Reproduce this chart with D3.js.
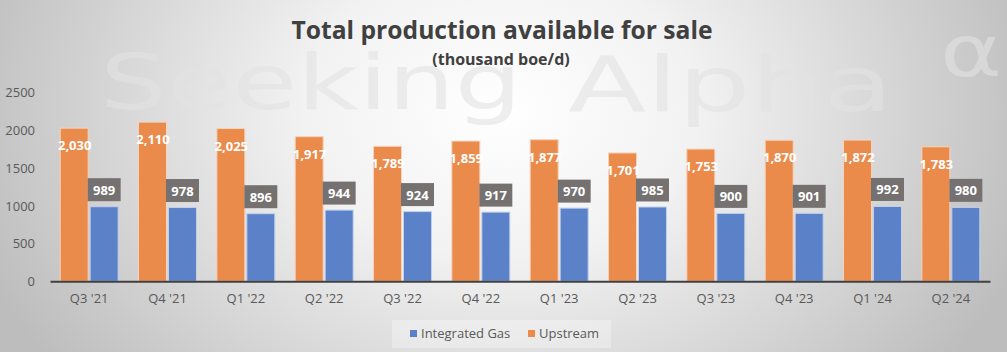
<!DOCTYPE html>
<html><head><meta charset="utf-8">
<script src="https://cdn.jsdelivr.net/npm/d3@7"></script>
<style>html,body{margin:0;padding:0;background:#fff;}svg{display:block;}</style>
</head><body>
<script>
const categories = ["Q3 '21","Q4 '21","Q1 '22","Q2 '22","Q3 '22","Q4 '22","Q1 '23","Q2 '23","Q3 '23","Q4 '23","Q1 '24","Q2 '24"];
const upstream = [2030,2110,2025,1917,1789,1859,1877,1701,1753,1870,1872,1783];
const integratedGas = [989,978,896,944,924,917,970,985,900,901,992,980];
const yTicks = [0,500,1000,1500,2000,2500];
const seriesNames = ["Integrated Gas","Upstream"];

const W = 1007, H = 352;
const svg = d3.select("body").append("svg").attr("width", W).attr("height", H);
const defs = svg.append("defs");
const grad = defs.append("radialGradient").attr("id","bg")
  .attr("gradientUnits","userSpaceOnUse").attr("cx",500).attr("cy",110).attr("r",560)
  .attr("gradientTransform","translate(500,110) scale(1,0.75) translate(-500,-110)");
grad.append("stop").attr("offset","0").attr("stop-color","#ffffff");
grad.append("stop").attr("offset","0.35").attr("stop-color","#f2f2f2");
grad.append("stop").attr("offset","1").attr("stop-color","#bdbdbd");
svg.append("rect").attr("width",W).attr("height",H).attr("fill","url(#bg)");

// watermark
const wm = svg.append("g").attr("fill","#e3e3e3").attr("opacity",0.6)
  .attr("font-family","'DejaVu Sans', sans-serif").attr("font-size",76);
wm.append("text").attr("x",100).attr("y",109).attr("textLength",422).attr("lengthAdjust","spacingAndGlyphs").text("Seeking");
wm.append("text").attr("x",568).attr("y",111).attr("textLength",325).attr("lengthAdjust","spacingAndGlyphs").text("Alpha");
wm.append("text").attr("x",940).attr("y",76).attr("font-size",72).attr("textLength",62).attr("lengthAdjust","spacingAndGlyphs").text("\u03B1");

const x0 = d3.scaleBand().domain(categories).range([50, 990]).paddingInner(0.26).paddingOuter(0.13);
const x1 = d3.scaleBand().domain(["Upstream","Integrated Gas"]).range([0, x0.bandwidth()]).padding(0.0);
const y = d3.scaleLinear().domain([0,2500]).range([281.3, 92.7]);

const colors = {"Upstream":"#ea8b4c","Integrated Gas":"#5b82c9"};
const font = "'Open Sans', 'Noto Sans', sans-serif";

// title
svg.append("text").attr("x",502).attr("y",39).attr("text-anchor","middle")
  .attr("font-family",font).attr("font-weight",700).attr("font-size",25).attr("fill","#404040")
  .attr("textLength",421).attr("lengthAdjust","spacingAndGlyphs")
  .text("Total production available for sale");
svg.append("text").attr("x",501).attr("y",65).attr("text-anchor","middle")
  .attr("font-family",font).attr("font-weight",700).attr("font-size",16).attr("fill","#404040")
  .text("(thousand boe/d)");

// y axis labels
const yAxis = d3.axisLeft(y).tickValues(yTicks).tickSize(0).tickPadding(0).tickFormat(d3.format("d"));
const gy = svg.append("g").attr("transform","translate(35,0)").call(yAxis);
gy.select(".domain").remove();
gy.selectAll("text").attr("font-family",font).attr("font-size",13).attr("fill","#595959");

// bars
const groups = svg.append("g").selectAll("g").data(categories).join("g")
  .attr("transform", d => `translate(${x0(d)},0)`);
groups.append("rect").attr("x", x1("Upstream")).attr("width", x1.bandwidth()-1)
  .attr("y", (d,i) => y(upstream[i])).attr("height", (d,i) => y(0)-y(upstream[i]))
  .attr("fill", colors["Upstream"]).attr("stroke","#f6d3bb").attr("stroke-width",1);
groups.append("rect").attr("x", x1("Integrated Gas")+1).attr("width", x1.bandwidth()-1)
  .attr("y", (d,i) => y(integratedGas[i])).attr("height", (d,i) => y(0)-y(integratedGas[i]))
  .attr("fill", colors["Integrated Gas"]).attr("stroke","#c2d0ec").attr("stroke-width",1);

// upstream labels
groups.append("text").attr("x", x1("Upstream") + x1.bandwidth()/2)
  .attr("y", (d,i) => y(upstream[i]) + 22).attr("text-anchor","middle")
  .attr("font-family",font).attr("font-weight",700).attr("font-size",13).attr("fill","#fff")
  .text((d,i) => d3.format(",")(upstream[i]));

// integrated gas labels with boxes
const cx = x1("Integrated Gas") + x1.bandwidth()/2 + 0.5;
groups.append("rect").attr("x", cx - 16.5).attr("width",33)
  .attr("y", (d,i) => y(integratedGas[i]) - 28.5).attr("height",23)
  .attr("fill","#757171");
groups.append("text").attr("x", cx).attr("y", (d,i) => y(integratedGas[i]) - 12)
  .attr("text-anchor","middle").attr("font-family",font).attr("font-weight",700)
  .attr("font-size",13).attr("fill","#fff").text((d,i) => integratedGas[i]);

// x axis
const xAxis = d3.axisBottom(x0).tickSize(0).tickPadding(12);
const gx = svg.append("g").attr("transform",`translate(0,${y(0)})`).call(xAxis);
gx.select(".domain").attr("stroke","#404040").attr("stroke-width",2);
gx.selectAll("text").attr("font-family",font).attr("font-size",13).attr("fill","#595959");

// legend
const lg = svg.append("g");
lg.append("rect").attr("x",392).attr("y",320).attr("width",219).attr("height",28)
  .attr("fill","#ffffff").attr("opacity",0.3);
const litems = [{n:"Integrated Gas", x:410},{n:"Upstream", x:528}];
litems.forEach(it => {
  lg.append("rect").attr("x",it.x).attr("y",330).attr("width",7).attr("height",7).attr("fill",colors[it.n]);
  lg.append("text").attr("x",it.x+11).attr("y",338).attr("font-family",font).attr("font-size",13)
    .attr("fill","#595959").text(it.n);
});
</script>
</body></html>
